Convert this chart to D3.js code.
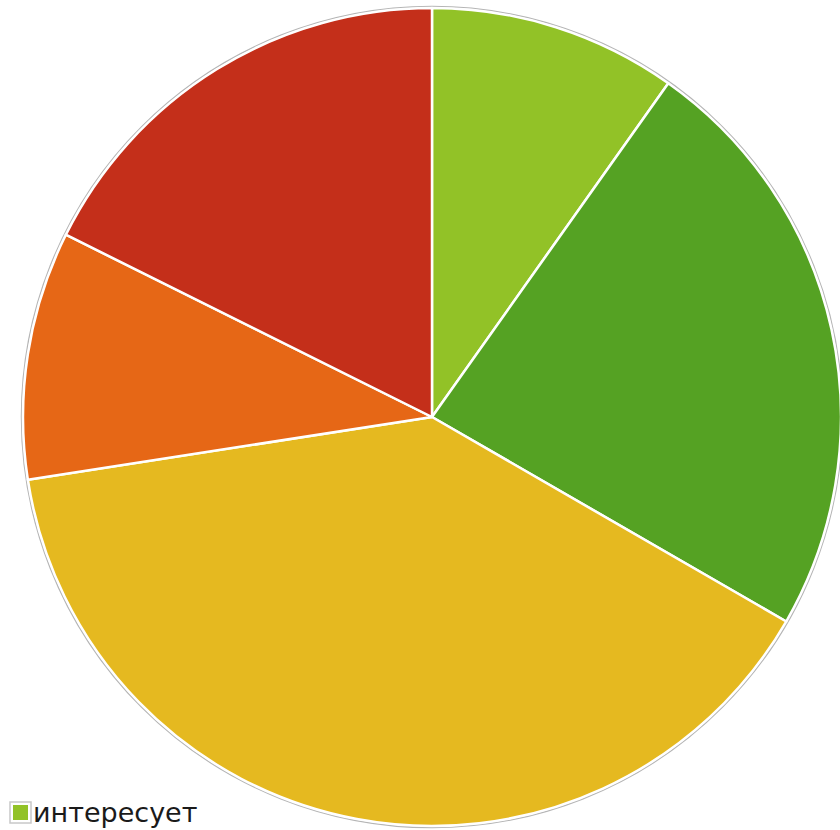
<!DOCTYPE html>
<html>
<head>
<meta charset="utf-8">
<script src="https://cdn.jsdelivr.net/npm/d3@7"></script>
<style>
  html, body { margin: 0; padding: 0; background: #fff; overflow: hidden; }
</style>
</head>
<body>
<div id="chart"></div>
<script>
// answers, clockwise from 12 o'clock
var categories = ["интересует", "скорее интересует", "затрудняюсь ответить", "скорее не интересует", "не интересует"];
var values = [5, 12, 20, 5, 9];
var colors = ["#92c227", "#55a223", "#e5b920", "#e66716", "#c42f1a"];

var width = 840, height = 830;
var cx = 432, cy = 417, radius = 409;

var svg = d3.select("#chart")
  .append("svg")
  .attr("width", width)
  .attr("height", height);

var data = categories.map(function (c, i) {
  return { name: c, value: values[i], color: colors[i] };
});

var pie = d3.pie()
  .sort(null)
  .value(function (d) { return d.value; });

var arc = d3.arc()
  .innerRadius(0)
  .outerRadius(radius);

var g = svg.append("g")
  .attr("transform", "translate(" + cx + "," + cy + ")");

// thin grey rim round the pie
g.append("circle")
  .attr("r", radius + 1.5)
  .style("fill", "none")
  .style("stroke", "#b5b5b5")
  .style("stroke-width", 1.5);

g.selectAll(".slice")
  .data(pie(data))
  .enter()
  .append("path")
  .attr("class", "slice")
  .attr("d", arc)
  .style("fill", function (d) { return d.data.color; })
  .style("stroke", "#fff")
  .style("stroke-width", 2.5)
  .style("stroke-linejoin", "round");

// legend, only the first row fits in the frame, rest falls below it
var legend = svg.append("g")
  .attr("transform", "translate(9,801)");

var item = legend.selectAll(".item")
  .data(data)
  .enter()
  .append("g")
  .attr("class", "item")
  .attr("transform", function (d, i) { return "translate(0," + (i * 45) + ")"; });

item.append("rect")
  .attr("x", 1)
  .attr("y", 1)
  .attr("width", 21)
  .attr("height", 21)
  .style("fill", "#fff")
  .style("stroke", "#c8c8c8")
  .style("stroke-width", 1.5);

item.append("rect")
  .attr("x", 4)
  .attr("y", 4)
  .attr("width", 15)
  .attr("height", 15)
  .style("fill", function (d) { return d.color; });

item.append("text")
  .attr("x", 24)
  .attr("y", 21)
  .style("font-family", "DejaVu Sans, sans-serif")
  .style("font-size", "27px")
  .style("fill", "#1a1a1a")
  .text(function (d) { return d.name; });
</script>
</body>
</html>
